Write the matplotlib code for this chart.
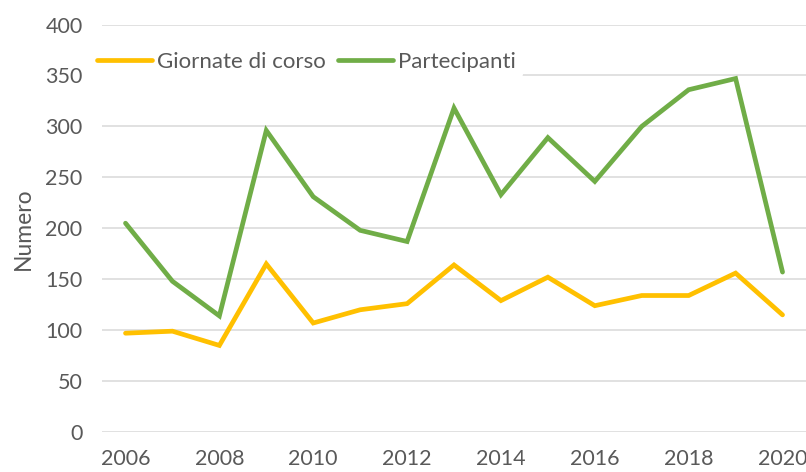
import matplotlib
matplotlib.use('Agg')
import matplotlib.pyplot as plt

# ================================
# Data
# ================================
anni = [2006, 2007, 2008, 2009, 2010, 2011, 2012, 2013,
        2014, 2015, 2016, 2017, 2018, 2019, 2020]
giornate = [97, 99, 85, 165, 107, 120, 126, 164, 129, 152, 124, 134, 134, 156, 115]
partecipanti = [205, 148, 114, 296, 231, 198, 187, 318, 233, 289, 246, 300, 336, 347, 157]
y_ticks = [0, 50, 100, 150, 200, 250, 300, 350, 400]
x_ticks = [2006, 2008, 2010, 2012, 2014, 2016, 2018, 2020]

GRAY = '#595959'
FS = 15.5
plt.rcParams['font.family'] = ['Lato', 'DejaVu Sans']

# ================================
# Plot
# ================================
fig = plt.figure(figsize=(8.06, 4.72), dpi=100)
ax = fig.add_axes([0.1266, 0.0847, 0.8734, 0.8633])

ax.plot(anni, giornate, color='#FFC000', lw=3.4, solid_capstyle='round',
        solid_joinstyle='miter', label='Giornate di corso', zorder=3)
ax.plot(anni, partecipanti, color='#70AD47', lw=3.4, solid_capstyle='round',
        solid_joinstyle='miter', label='Partecipanti', zorder=3)

ax.set_xlim(2005.5, 2020.5)
ax.set_ylim(0, 400)
ax.set_yticks(y_ticks)
ax.set_xticks(x_ticks)
ax.yaxis.grid(True, color='#D9D9D9', lw=1.1)
ax.set_axisbelow(True)
for s in ax.spines.values():
    s.set_visible(False)
ax.tick_params(length=0, labelsize=FS, labelcolor=GRAY)
ax.tick_params(axis='y', pad=14)
ax.tick_params(axis='x', pad=12)
ax.set_ylabel('Numero', fontsize=FS + 1, color=GRAY, labelpad=8)

leg = ax.legend(loc='upper left', bbox_to_anchor=(-0.032, 0.977), ncol=2,
                frameon=True, fontsize=FS + 0.5, handlelength=2.45,
                handletextpad=0.25, columnspacing=0.55, borderpad=0.3)
leg.get_frame().set_facecolor('white')
leg.get_frame().set_edgecolor('none')
leg.get_frame().set_alpha(1)
for t in leg.get_texts():
    t.set_color(GRAY)

fig.savefig('out.png', dpi=100)
